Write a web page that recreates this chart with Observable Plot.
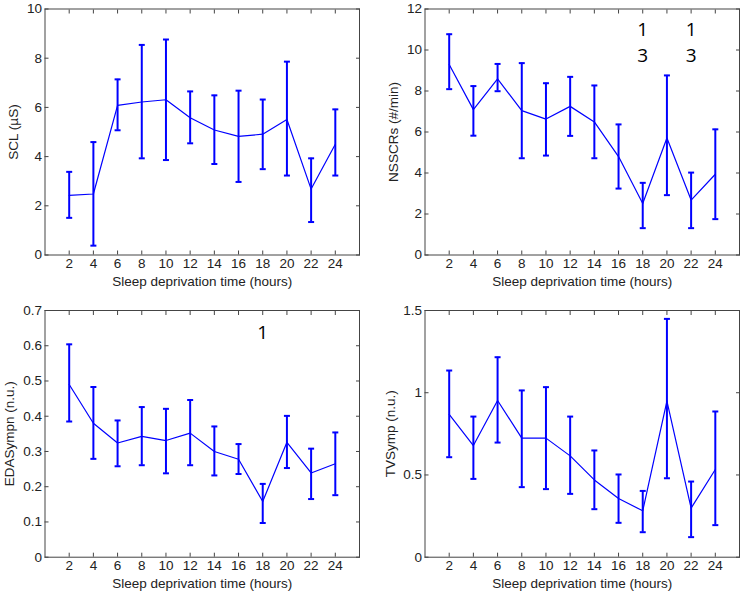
<!DOCTYPE html>
<html>
<head>
<meta charset="utf-8">
<script src="https://cdn.jsdelivr.net/npm/d3@7"></script>
<script src="https://cdn.jsdelivr.net/npm/@observablehq/plot@0.6"></script>
<style>
  body { margin: 0; background: #fff; }
  #wrap { position: relative; width: 743px; height: 592px; background: #fff; }
  #wrap > svg { position: absolute; }
</style>
</head>
<body>
<div id="wrap"></div>
<script>
// ---- data ----
const hours = [2, 4, 6, 8, 10, 12, 14, 16, 18, 20, 22, 24];

const sclMean = [2.42, 2.48, 6.08, 6.22, 6.31, 5.58, 5.08, 4.82, 4.91, 5.51, 2.68, 4.50];
const sclLow  = [1.51, 0.38, 5.07, 3.93, 3.86, 4.54, 3.70, 2.97, 3.49, 3.23, 1.34, 3.23];
const sclHigh = [3.38, 4.59, 7.14, 8.54, 8.76, 6.65, 6.49, 6.68, 6.32, 7.86, 3.93, 5.92];

const nsMean = [9.29, 7.09, 8.59, 7.04, 6.63, 7.25, 6.49, 4.80, 2.51, 5.71, 2.68, 3.94];
const nsLow  = [8.09, 5.82, 7.99, 4.72, 4.85, 5.81, 4.72, 3.24, 1.31, 2.92, 1.31, 1.75];
const nsHigh = [10.77, 8.24, 9.32, 9.36, 8.38, 8.69, 8.27, 6.37, 3.52, 8.76, 4.02, 6.13];

const edaMean = [0.490, 0.380, 0.324, 0.343, 0.331, 0.352, 0.300, 0.278, 0.158, 0.326, 0.239, 0.265];
const edaLow  = [0.385, 0.279, 0.258, 0.261, 0.238, 0.261, 0.232, 0.236, 0.097, 0.253, 0.165, 0.176];
const edaHigh = [0.604, 0.483, 0.388, 0.426, 0.421, 0.446, 0.371, 0.321, 0.208, 0.401, 0.308, 0.354];

const tvMean = [0.868, 0.679, 0.953, 0.724, 0.724, 0.616, 0.470, 0.357, 0.282, 0.949, 0.298, 0.533];
const tvLow  = [0.608, 0.476, 0.697, 0.426, 0.414, 0.385, 0.292, 0.209, 0.152, 0.480, 0.122, 0.195];
const tvHigh = [1.135, 0.855, 1.216, 1.014, 1.034, 0.855, 0.649, 0.503, 0.403, 1.449, 0.460, 0.886];

const sclTicks = [0, 2, 4, 6, 8, 10];
const nsTicks = [0, 2, 4, 6, 8, 10, 12];
const edaTicks = [0, 0.1, 0.2, 0.3, 0.4, 0.5, 0.6, 0.7];
const tvTicks = [0, 0.5, 1, 1.5];

const nsNotes = [
  {x: 18, y: 10.97, text: "1"}, {x: 18, y: 9.73, text: "3"},
  {x: 22, y: 10.97, text: "1"}, {x: 22, y: 9.73, text: "3"}
];
const edaNotes = [{x: 18, y: 0.636, text: "1"}];

const xLabel = "Sleep deprivation time (hours)";
const BLUE = "#0000ff";

// horizontal cap symbol for error bars
const cap = {
  draw(ctx, size) {
    const r = Math.sqrt(size / Math.PI);
    ctx.moveTo(-r, 0);
    ctx.lineTo(r, 0);
  }
};

function panel(o) {
  const data = hours.map((h, i) => ({h, m: o.mean[i], lo: o.low[i], hi: o.high[i]}));
  const svg = Plot.plot({
    width: o.width,
    height: o.height,
    marginLeft: o.ml, marginRight: o.mr, marginTop: o.mt, marginBottom: o.mb,
    style: {fontFamily: "'Liberation Sans', Arial, sans-serif", fontSize: "13.5px", color: "#222", background: "#fff"},
    x: {domain: [0, 26]},
    y: {domain: o.yDomain},
    marks: [
      Plot.axisX({ticks: hours, tickSize: -4, tickPadding: 7, stroke: "#444",
        label: xLabel, labelAnchor: "center", labelArrow: "none", labelOffset: 31}),
      Plot.axisX({anchor: "top", ticks: hours, tickSize: -4, stroke: "#444", tickFormat: () => "", label: null}),
      Plot.axisY({ticks: o.yTicks, tickSize: -4, tickPadding: 7, stroke: "#444", tickFormat: d => String(d),
        label: o.label, labelAnchor: "center", labelArrow: "none", labelOffset: o.lo}),
      Plot.axisY({anchor: "right", ticks: o.yTicks, tickSize: -4, stroke: "#444", tickFormat: () => "", label: null}),
      Plot.frame({stroke: "#444"}),
      Plot.ruleX(data, {x: "h", y1: "lo", y2: "hi", stroke: BLUE, strokeWidth: 2}),
      Plot.dot(data, {x: "h", y: "lo", symbol: cap, r: 3, stroke: BLUE, strokeWidth: 2, fill: "none"}),
      Plot.dot(data, {x: "h", y: "hi", symbol: cap, r: 3, stroke: BLUE, strokeWidth: 2, fill: "none"}),
      Plot.line(data, {x: "h", y: "m", stroke: BLUE, strokeWidth: 1.2}),
      Plot.text(o.notes || [], {x: "x", y: "y", text: "text", fontSize: 19, fill: "#000",
        fontFamily: "'Open Sans', 'Noto Sans', sans-serif"})
    ]
  });
  svg.style.left = o.left + "px";
  svg.style.top = o.top + "px";
  document.getElementById("wrap").appendChild(svg);
}

panel({left: 0, top: 0, width: 372, height: 290, ml: 44.5, mr: 13, mt: 8.5, mb: 35.5,
  mean: sclMean, low: sclLow, high: sclHigh, yDomain: [0, 10], yTicks: sclTicks, label: "SCL (µS)", lo: 37});
panel({left: 372, top: 0, width: 371, height: 290, ml: 52.5, mr: 4, mt: 8.5, mb: 35.5,
  mean: nsMean, low: nsLow, high: nsHigh, yDomain: [0, 12], yTicks: nsTicks, label: "NSSCRs (#/min)", lo: 37, notes: nsNotes});
panel({left: 0, top: 290, width: 372, height: 302, ml: 44.5, mr: 13, mt: 20, mb: 35.3,
  mean: edaMean, low: edaLow, high: edaHigh, yDomain: [0, 0.7], yTicks: edaTicks, label: "EDASympn (n.u.)", lo: 41, notes: edaNotes});
panel({left: 372, top: 290, width: 371, height: 302, ml: 52.5, mr: 4, mt: 20, mb: 35.3,
  mean: tvMean, low: tvLow, high: tvHigh, yDomain: [0, 1.5], yTicks: tvTicks, label: "TVSymp (n.u.)", lo: 40});
</script>
</body>
</html>
